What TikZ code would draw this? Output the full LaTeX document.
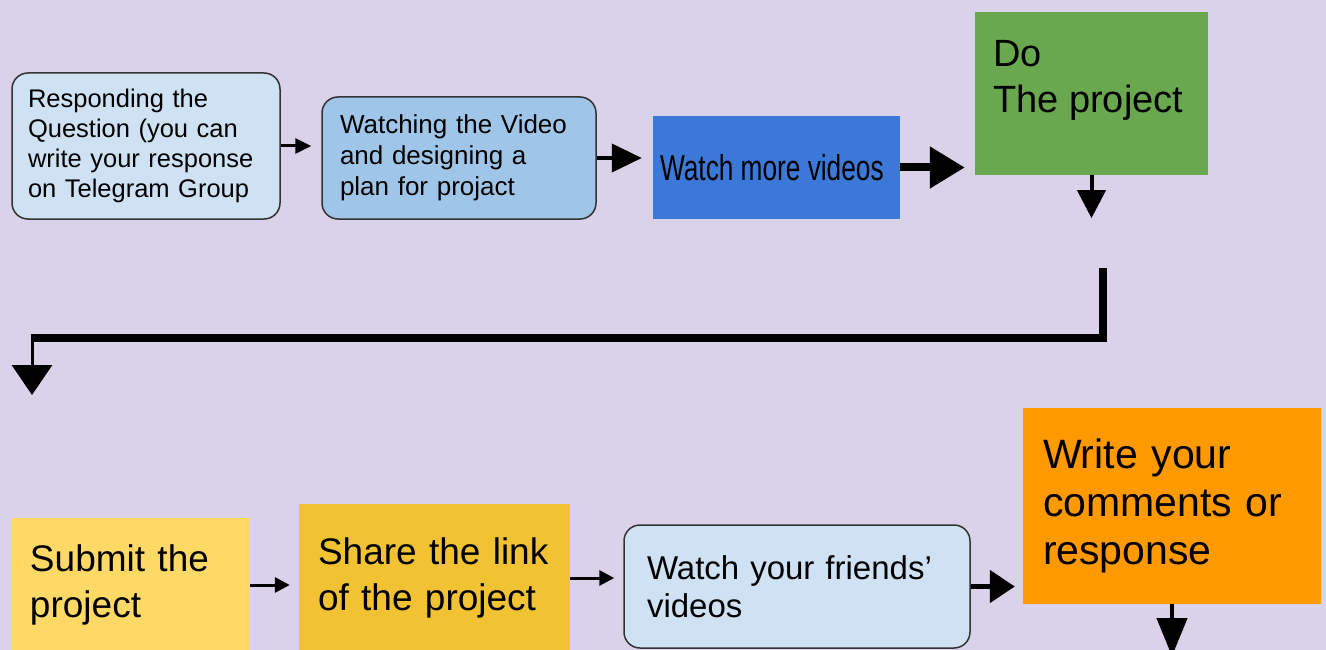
\documentclass[tikz,border=0pt]{standalone}
\usepackage{fontspec}
\setmainfont{Liberation Sans}
\newfontfamily\narrowsans[FakeStretch=0.73]{Liberation Sans}
\usetikzlibrary{arrows.meta}
\definecolor{bglav}{HTML}{D9D2E9}
\definecolor{paleblue}{HTML}{CFE2F3}
\definecolor{midblue}{HTML}{9FC5E8}
\definecolor{deepblue}{HTML}{3C78D8}
\definecolor{leafgreen}{HTML}{6AA84F}
\definecolor{paleyellow}{HTML}{FFD966}
\definecolor{gold}{HTML}{F1C232}
\definecolor{orangebox}{HTML}{FF9900}

\begin{document}
\begin{tikzpicture}[x=1pt, y=-1pt,
  box/.style={rectangle, anchor=center, align=left, inner ysep=0pt, text=black},
  rbox/.style={box, draw=black!80, line width=1.5pt, rounded corners=16pt},
  size/.style n args={3}{minimum width=#1pt, minimum height=#2pt, inner xsep=#3pt, text width=#1pt-#3pt-#3pt},
  flow/.style n args={3}{-{Triangle[length=#2pt, width=#3pt]}, line width=#1pt}]
\clip (0,0) rectangle (1326,650);
\fill[bglav] (0,0) rectangle (1326,650);

\node[rbox, fill=paleblue, size={268}{146}{16}, font=\fontsize{25.5}{30}\selectfont] (resp) at (146,146)
  {Responding the\\Question (you can\\write your response\\on Telegram Group};
\node[rbox, fill=midblue, size={274}{122}{18}, font=\fontsize{26}{31}\selectfont] (watch) at (459,158)
  {Watching the Video\\and designing a\\plan for projact};
\node[box, fill=deepblue, size={247}{103}{7}, font=\narrowsans\fontsize{36}{40}\selectfont] (more) at (776.5,167.5)
  {\spaceskip=0.2em\mbox{Watch more videos}};
\node[box, fill=leafgreen, minimum width=233pt, minimum height=163pt] (do) at (1091.5,93.5) {};
\node[anchor=north west, align=left, inner sep=0pt, font=\fontsize{38}{46}\selectfont] (dotext) at (993,40)
  {Do\\The project};

\draw[flow={3}{16}{15}, shorten >=10pt] (resp.east) -- (resp.east -| watch.west);
\draw[flow={4}{30}{28}, shorten >=11pt] (watch.east) -- (watch.east -| more.west);
\draw[flow={8}{35}{40}, shorten >=10pt] (more.east) -- (more.east -| do.west);
\path (do.south) ++(0,43) coordinate (doend);
\draw[flow={4}{28}{28}] (do.south) -- (doend);

\coordinate (elbowtop) at (1103,268);
\coordinate (elbowleft) at (32,338);
\coordinate (elbowend) at (32,395);
\draw[line width=8pt] (elbowtop) |- ([xshift=-1.5pt]elbowleft);
\draw[flow={3}{30}{40}] (elbowleft) -- (elbowend);

\node[box, fill=paleyellow, size={238}{134}{18}, font=\fontsize{37}{46}\selectfont] (submit) at (131,585)
  {Submit the\\project};
\node[box, fill=gold, size={271}{148}{19}, font=\fontsize{37}{46}\selectfont] (share) at (434.5,578)
  {Share the link\\of the project};
\node[rbox, fill=paleblue, size={346}{123}{23}, font=\fontsize{33}{38}\selectfont] (friends) at (797,586.5)
  {Watch your friends’\\videos};
\node[box, fill=orangebox, size={298}{196}{20}, font=\fontsize{41}{48}\selectfont] (write) at (1172,506)
  {Write your\\comments or\\response};

\draw[flow={3}{15}{15}, shorten >=9pt] (submit.east) -- (submit.east -| share.west);
\draw[flow={3}{15}{15}, shorten >=9pt] (share.east) -- (share.east -| friends.west);
\draw[flow={5}{25}{32}, shorten >=8pt] (friends.east) -- (friends.east -| write.west);
\path (write.south) ++(0,52) coordinate (writeend);
\draw[flow={4}{38}{30}] (write.south) -- (writeend);
\end{tikzpicture}
\end{document}
